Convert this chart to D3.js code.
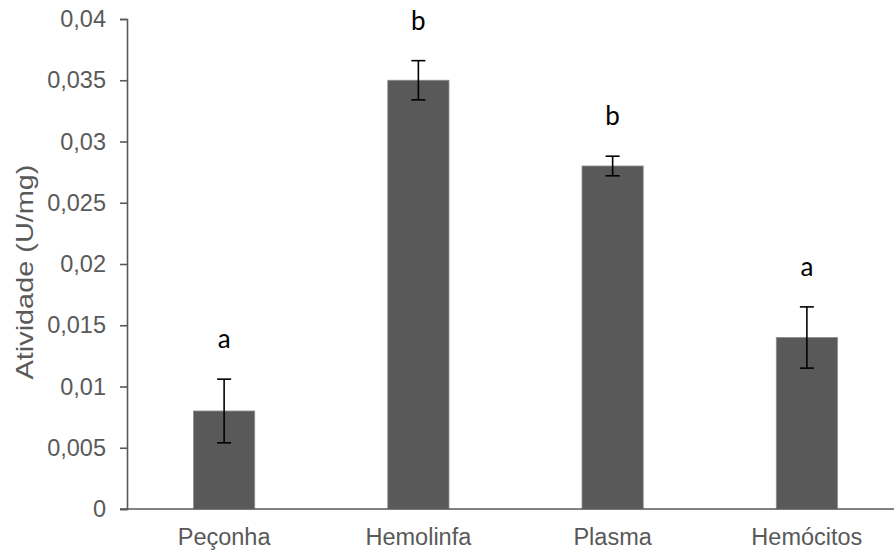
<!DOCTYPE html>
<html>
<head>
<meta charset="utf-8">
<script src="https://cdn.jsdelivr.net/npm/d3@7"></script>
<style>
  body { margin: 0; background: #fff; }
  svg { display: block; }
</style>
</head>
<body>
<div id="chart"></div>
<script>
// Data
const categories = ['Peçonha', 'Hemolinfa', 'Plasma', 'Hemócitos'];
const values = [0.008, 0.035, 0.028, 0.014];
const errors = [0.0026, 0.0016, 0.0008, 0.0025];
const groups = ['a', 'b', 'b', 'a'];
const yTicks = [0, 0.005, 0.01, 0.015, 0.02, 0.025, 0.03, 0.035, 0.04];

const width = 894, height = 551;
const margin = { top: 19, right: -10, bottom: 42, left: 127 };
const labelFont = '"Liberation Sans", Arial, sans-serif';

const svg = d3.select('#chart').append('svg')
  .attr('width', width)
  .attr('height', height);

const x = d3.scaleBand()
  .domain(categories)
  .range([margin.left, width - margin.right])
  .paddingInner(0.685)
  .paddingOuter(0.3425);

const y = d3.scaleLinear()
  .domain([0, 0.04])
  .range([height - margin.bottom, margin.top]);

const fmt = d => d === 0 ? '0' : String(d).replace('.', ',');

// Bars
const data = categories.map((c, i) => ({ c, v: values[i], e: errors[i], g: groups[i] }));

svg.selectAll('.bar')
  .data(data)
  .join('rect')
  .attr('class', 'bar')
  .attr('x', d => x(d.c))
  .attr('y', d => y(d.v))
  .attr('width', x.bandwidth())
  .attr('height', d => y(0) - y(d.v))
  .attr('fill', '#595959')
  .attr('stroke', '#8c8c8c')
  .attr('stroke-width', 0.8);

// Y axis
const yAxis = svg.append('g')
  .attr('transform', `translate(${margin.left},0)`)
  .call(d3.axisLeft(y).tickValues(yTicks).tickFormat(fmt).tickSize(7).tickPadding(14));
yAxis.select('.domain').attr('stroke', '#595959').attr('stroke-width', 1.6);
yAxis.selectAll('.tick line').attr('stroke', '#595959').attr('stroke-width', 1.6);
yAxis.selectAll('.tick text')
  .attr('fill', '#595959')
  .style('font-family', labelFont)
  .style('font-size', '23.5px');

// X axis baseline and labels
svg.append('line')
  .attr('x1', margin.left - 7)
  .attr('x2', width)
  .attr('y1', y(0))
  .attr('y2', y(0))
  .attr('stroke', '#595959')
  .attr('stroke-width', 1.6);

svg.selectAll('.xlabel')
  .data(categories)
  .join('text')
  .attr('class', 'xlabel')
  .attr('x', d => x(d) + x.bandwidth() / 2)
  .attr('y', y(0) + 36)
  .attr('text-anchor', 'middle')
  .attr('fill', '#595959')
  .style('font-family', labelFont)
  .style('font-size', '23.5px')
  .text(d => d);

// Error bars
const cap = 7;
const err = svg.selectAll('.err')
  .data(data)
  .join('g')
  .attr('class', 'err')
  .attr('stroke', '#000')
  .attr('stroke-width', 1.6);
err.append('line')
  .attr('x1', d => x(d.c) + x.bandwidth() / 2)
  .attr('x2', d => x(d.c) + x.bandwidth() / 2)
  .attr('y1', d => y(d.v + d.e))
  .attr('y2', d => y(d.v - d.e));
err.append('line')
  .attr('x1', d => x(d.c) + x.bandwidth() / 2 - cap)
  .attr('x2', d => x(d.c) + x.bandwidth() / 2 + cap)
  .attr('y1', d => y(d.v + d.e))
  .attr('y2', d => y(d.v + d.e));
err.append('line')
  .attr('x1', d => x(d.c) + x.bandwidth() / 2 - cap)
  .attr('x2', d => x(d.c) + x.bandwidth() / 2 + cap)
  .attr('y1', d => y(d.v - d.e))
  .attr('y2', d => y(d.v - d.e));

// Significance letters
svg.selectAll('.letter')
  .data(data)
  .join('text')
  .attr('class', 'letter')
  .attr('x', d => x(d.c) + x.bandwidth() / 2)
  .attr('y', d => y(d.v + d.e) - 31)
  .attr('text-anchor', 'middle')
  .attr('fill', '#000')
  .style('font-family', 'Lato, "Open Sans", sans-serif')
  .style('font-size', '26px')
  .text(d => d.g);

// Y axis title
svg.append('text')
  .attr('transform', `translate(33,${(y(0) + y(0.04)) / 2 + 8}) rotate(-90)`)
  .attr('text-anchor', 'middle')
  .attr('fill', '#595959')
  .attr('textLength', 215)
  .attr('lengthAdjust', 'spacingAndGlyphs')
  .style('font-family', labelFont)
  .style('font-size', '24px')
  .text('Atividade (U/mg)');
</script>
</body>
</html>
